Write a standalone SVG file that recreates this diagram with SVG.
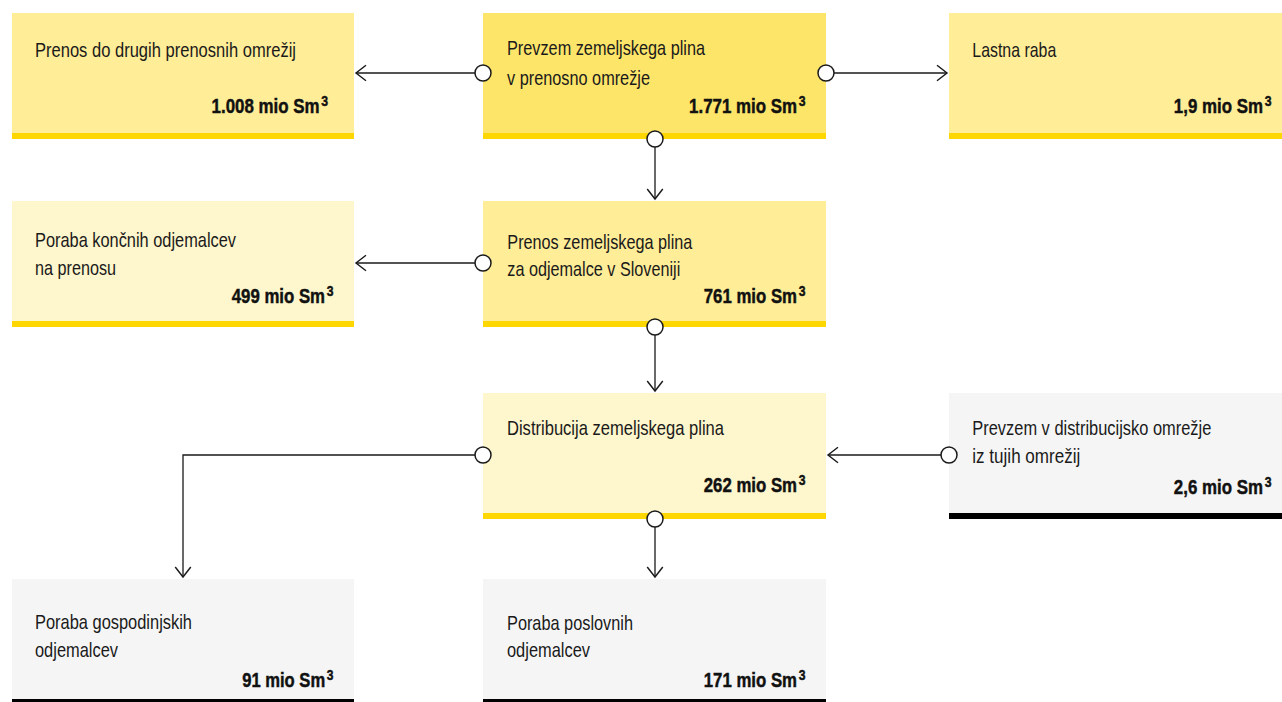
<svg xmlns="http://www.w3.org/2000/svg" width="1282" height="702" viewBox="0 0 1282 702">
<defs>
<style>
.t{font-family:"Liberation Sans",Arial,sans-serif;font-size:21px;fill:#1a1a1a}
.v{font-family:"Liberation Sans",Arial,sans-serif;font-size:20px;font-weight:bold;fill:#111;stroke:#111;stroke-width:0.45;text-anchor:end}
.s{font-size:14.5px}
.c1{fill:#FFED98}.c2{fill:#FDE56A}.c3{fill:#FEF6CC}.cg{fill:#F5F5F5}
.sy{fill:#FFD700}.sk{fill:#000}
.ln{fill:none;stroke:#1a1a1a;stroke-width:1.3}
.dot{fill:#fff;stroke:#1a1a1a;stroke-width:1.5}
</style>
<marker id="arr" markerUnits="userSpaceOnUse" markerWidth="20" markerHeight="20" viewBox="-12 -9 14 18" refX="0" refY="0" orient="auto">
<path d="M-9,-7 L0,0 L-9,7" fill="none" stroke="#1a1a1a" stroke-width="1.3"/>
</marker>
</defs>
<rect width="1282" height="702" fill="#fff"/>

<g id="n-prenos-drugih">
<rect class="c1" x="12" y="13" width="342" height="126"/>
<rect class="sy" x="12" y="133" width="342" height="6"/>
<text class="t" x="35" y="56.5" textLength="261" lengthAdjust="spacingAndGlyphs">Prenos do drugih prenosnih omrežij</text>
<text class="v" transform="translate(328,113) scale(0.845,1)">1.008 mio Sm<tspan class="s" dx="2" dy="-7">3</tspan></text>
</g>

<g id="n-prevzem">
<rect class="c2" x="483" y="13" width="343" height="126"/>
<rect class="sy" x="483" y="133" width="343" height="6"/>
<text class="t" x="507" y="55" textLength="198" lengthAdjust="spacingAndGlyphs">Prevzem zemeljskega plina</text>
<text class="t" x="507" y="85" textLength="143" lengthAdjust="spacingAndGlyphs">v prenosno omrežje</text>
<text class="v" transform="translate(805.5,113) scale(0.845,1)">1.771 mio Sm<tspan class="s" dx="2" dy="-7">3</tspan></text>
</g>

<g id="n-lastna-raba">
<rect class="c1" x="949" y="13" width="343" height="126"/>
<rect class="sy" x="949" y="133" width="343" height="6"/>
<text class="t" x="972.3" y="56.5" textLength="84" lengthAdjust="spacingAndGlyphs">Lastna raba</text>
<text class="v" transform="translate(1271.5,113) scale(0.845,1)">1,9 mio Sm<tspan class="s" dx="2" dy="-7">3</tspan></text>
</g>

<g id="n-poraba-koncnih">
<rect class="c3" x="12" y="201" width="342" height="126"/>
<rect class="sy" x="12" y="321" width="342" height="6"/>
<text class="t" x="35" y="246.7" textLength="201" lengthAdjust="spacingAndGlyphs">Poraba končnih odjemalcev</text>
<text class="t" x="35" y="275" textLength="81" lengthAdjust="spacingAndGlyphs">na prenosu</text>
<text class="v" transform="translate(333.5,302.7) scale(0.84,1)">499 mio Sm<tspan class="s" dx="2" dy="-7">3</tspan></text>
</g>

<g id="n-prenos-slo">
<rect class="c1" x="483" y="201" width="343" height="126"/>
<rect class="sy" x="483" y="321" width="343" height="6"/>
<text class="t" x="507.3" y="249" textLength="185" lengthAdjust="spacingAndGlyphs">Prenos zemeljskega plina</text>
<text class="t" x="507.3" y="275.7" textLength="173" lengthAdjust="spacingAndGlyphs">za odjemalce v Sloveniji</text>
<text class="v" transform="translate(805.5,302.7) scale(0.84,1)">761 mio Sm<tspan class="s" dx="2" dy="-7">3</tspan></text>
</g>

<g id="n-distribucija">
<rect class="c3" x="483" y="393" width="343" height="126"/>
<rect class="sy" x="483" y="513" width="343" height="6"/>
<text class="t" x="507" y="435" textLength="217" lengthAdjust="spacingAndGlyphs">Distribucija zemeljskega plina</text>
<text class="v" transform="translate(805.5,491.7) scale(0.84,1)">262 mio Sm<tspan class="s" dx="2" dy="-7">3</tspan></text>
</g>

<g id="n-prevzem-tujih">
<rect class="cg" x="949" y="393" width="343" height="126"/>
<rect class="sk" x="949" y="513" width="343" height="6"/>
<text class="t" x="972.3" y="435" textLength="239" lengthAdjust="spacingAndGlyphs">Prevzem v distribucijsko omrežje</text>
<text class="t" x="972.3" y="463.3" textLength="108" lengthAdjust="spacingAndGlyphs">iz tujih omrežij</text>
<text class="v" transform="translate(1271.5,494) scale(0.845,1)">2,6 mio Sm<tspan class="s" dx="2" dy="-7">3</tspan></text>
</g>

<g id="n-gospodinjski">
<rect class="cg" x="12" y="579" width="342" height="126"/>
<rect class="sk" x="12" y="699" width="342" height="6"/>
<text class="t" x="35" y="629.3" textLength="157" lengthAdjust="spacingAndGlyphs">Poraba gospodinjskih</text>
<text class="t" x="35" y="657.3" textLength="83" lengthAdjust="spacingAndGlyphs">odjemalcev</text>
<text class="v" transform="translate(333.5,686.7) scale(0.83,1)">91 mio Sm<tspan class="s" dx="2" dy="-7">3</tspan></text>
</g>

<g id="n-poslovni">
<rect class="cg" x="483" y="579" width="343" height="126"/>
<rect class="sk" x="483" y="699" width="343" height="6"/>
<text class="t" x="507" y="630" textLength="126" lengthAdjust="spacingAndGlyphs">Poraba poslovnih</text>
<text class="t" x="507" y="657.3" textLength="83" lengthAdjust="spacingAndGlyphs">odjemalcev</text>
<text class="v" transform="translate(805.5,686.7) scale(0.84,1)">171 mio Sm<tspan class="s" dx="2" dy="-7">3</tspan></text>
</g>

<g id="connectors">
<path class="ln" d="M475,73 H356" marker-end="url(#arr)"/>
<path class="ln" d="M834,73 H947" marker-end="url(#arr)"/>
<path class="ln" d="M655,147 V199" marker-end="url(#arr)"/>
<path class="ln" d="M475,263 H356" marker-end="url(#arr)"/>
<path class="ln" d="M655,335 V391" marker-end="url(#arr)"/>
<path class="ln" d="M475,455 H183 V577" marker-end="url(#arr)"/>
<path class="ln" d="M655,527 V577" marker-end="url(#arr)"/>
<path class="ln" d="M941,455 H828" marker-end="url(#arr)"/>
<circle class="dot" cx="483" cy="73" r="8"/>
<circle class="dot" cx="826" cy="73" r="8"/>
<circle class="dot" cx="655" cy="139" r="8"/>
<circle class="dot" cx="483" cy="263" r="8"/>
<circle class="dot" cx="655" cy="327" r="8"/>
<circle class="dot" cx="483" cy="455" r="8"/>
<circle class="dot" cx="655" cy="519" r="8"/>
<circle class="dot" cx="949" cy="455" r="8"/>
</g>
</svg>
